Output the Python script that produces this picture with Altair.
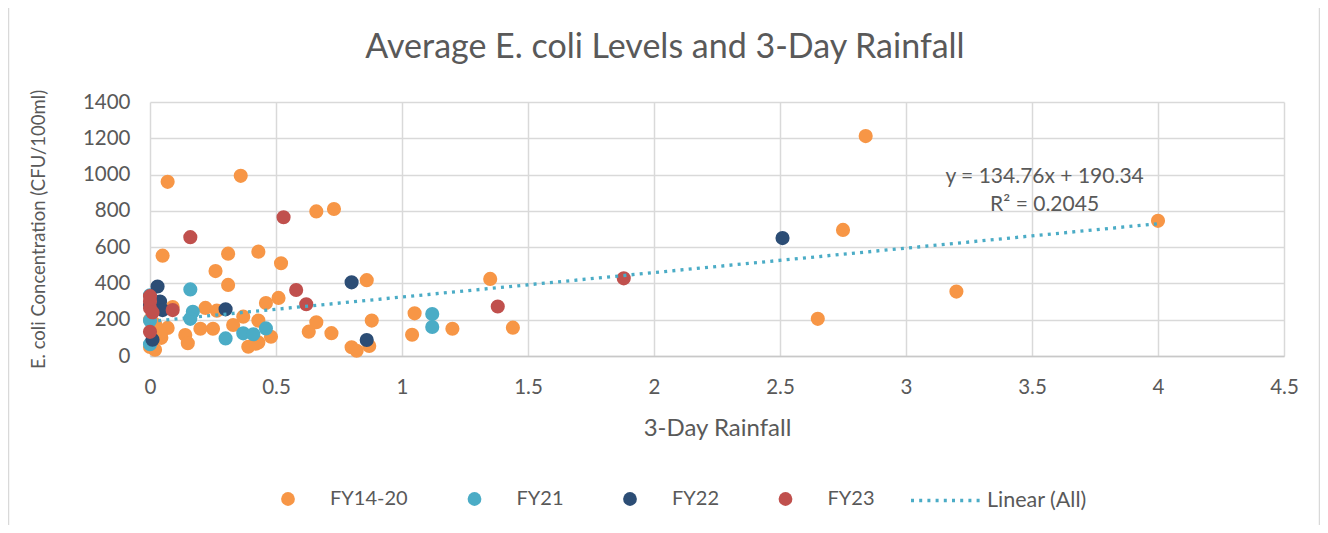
import altair as alt
import pandas as pd

# ---- data ----
series_names = ["FY14-20", "FY21", "FY22", "FY23"]
series_colors = ["#F79646", "#4BACC6", "#2C4D75", "#C0504D"]

fy1420_rain = [0.07, 0.36, 0.05, 0.31, 0.43, 0.26, 0.52, 0.66, 0.73, 0.86,
               0.31, 1.35, 1.44, 1.05, 1.04, 1.20, 0.88, 0.72, 0.87, 0.80,
               0.82, 0.66, 0.63, 0.46, 0.51, 0.43, 0.48, 0.43, 0.39, 0.42,
               0.37, 0.09, 0.22, 0.265, 0.25, 0.20, 0.14, 0.15, 0.33, 0.07,
               0.045, 0.02, 0.00, 0.00, 0.02, 2.84, 2.75, 3.20, 2.65, 4.00,
               0.04]
fy1420_ecoli = [960, 993, 553, 564, 575, 468, 511, 797, 810, 418,
                392, 425, 156, 235, 117, 150, 195, 126, 55, 48,
                29, 186, 134, 292, 320, 195, 106, 75, 51, 68,
                217, 270, 265, 250, 150, 150, 116, 70, 171, 155,
                100, 35, 50, 200, 175, 1212, 695, 355, 205, 745,
                130]

fy21_rain = [0.16, 0.17, 0.16, 0.30, 0.37, 0.41, 0.46, 1.12, 1.12, 0.00, 0.00, 0.00]
fy21_ecoli = [367, 244, 205, 97, 125, 120, 152, 231, 160, 335, 65, 195]

fy22_rain = [0.03, 0.04, 0.05, 0.30, 0.80, 0.86, 2.51, 0.01, 0.00]
fy22_ecoli = [383, 300, 253, 257, 406, 88, 650, 90, 280]

fy23_rain = [0.16, 0.53, 0.58, 0.62, 1.38, 1.88, 0.09, 0.00, 0.00, 0.00, 0.01, 0.00]
fy23_ecoli = [655, 765, 364, 285, 273, 428, 253, 330, 300, 265, 240, 133]

# trend line end points as drawn (Excel linear trendline over all points)
trend_rain = [0.0, 4.0]
trend_ecoli = [190.34, 729.38]

x_ticks = [0, 0.5, 1, 1.5, 2, 2.5, 3, 3.5, 4, 4.5]
y_ticks = [0, 200, 400, 600, 800, 1000, 1200, 1400]

title_text = "Average E. coli Levels and 3-Day Rainfall"
x_title = "3-Day Rainfall"
y_title = "E. coli Concentration (CFU/100ml)"
trend_label = "Linear (All)"
trend_color = "#4BACC6"
eq_lines = ["y = 134.76x + 190.34", "R² = 0.2045"]
eq_rain = [3.55, 3.55]
eq_ecoli = [986, 832]

rows = []
for k, (name, xs, ys) in enumerate(zip(series_names,
                                       [fy1420_rain, fy21_rain, fy22_rain, fy23_rain],
                                       [fy1420_ecoli, fy21_ecoli, fy22_ecoli, fy23_ecoli])):
    for xv, yv in zip(xs, ys):
        rows.append({"series": name, "k": k, "rain": xv, "ecoli": yv})
df = pd.DataFrame(rows)
trend_df = pd.DataFrame({"rain": trend_rain, "ecoli": trend_ecoli, "series": [trend_label] * 2})
eq_df = pd.DataFrame({"t": eq_lines, "rain": eq_rain, "ecoli": eq_ecoli})

FONT = "Lato"
TXT = "#595959"
GRID = "#d9d9d9"

x_scale = alt.Scale(domain=[0, 4.5], nice=False, zero=False)
y_scale = alt.Scale(domain=[0, 1400], nice=False)

x_axis = alt.Axis(values=x_ticks, format="~g", title=x_title, ticks=False,
                  domainColor="#c8c8c8", domainWidth=1.5,
                  grid=True, gridColor=GRID, gridWidth=1.5,
                  labelFont=FONT, labelFontSize=20.5, labelColor=TXT, labelPadding=21,
                  labelOverlap=False, labelFlush=False,
                  titleFont=FONT, titleFontSize=24, titleColor=TXT,
                  titleFontWeight="normal", titlePadding=19)
y_axis = alt.Axis(values=y_ticks, format="d", title=y_title, ticks=False,
                  domain=False, grid=True, gridColor=GRID, gridWidth=1.5,
                  labelFont=FONT, labelFontSize=20.5, labelColor=TXT, labelPadding=20,
                  labelOverlap=False, labelFlush=False, labelBound=False,
                  titleFont=FONT, titleFontSize=18.5, titleColor=TXT,
                  titleFontWeight="normal", titlePadding=34)

X = lambda: alt.X("rain:Q", scale=x_scale, axis=x_axis)
Y = lambda: alt.Y("ecoli:Q", scale=y_scale, axis=y_axis)

edge_df = pd.DataFrame({"e": [0]})
left_edge = alt.Chart(edge_df).mark_rule(stroke="#d9d9d9", strokeWidth=1.5).encode(
    x=alt.value(-141.5), y=alt.value(-94), y2=alt.value(423))
right_edge = alt.Chart(edge_df).mark_rule(stroke="#d9d9d9", strokeWidth=1.5).encode(
    x=alt.value(1169.5), y=alt.value(-94), y2=alt.value(423))

points = alt.Chart(df).mark_circle(size=200, opacity=1).encode(
    x=X(), y=Y(),
    color=alt.Color("series:N",
                    scale=alt.Scale(domain=series_names, range=series_colors),
                    legend=alt.Legend(orient="none", legendX=128, legendY=387,
                                      direction="horizontal", title=None,
                                      symbolType="circle", symbolSize=190,
                                      symbolStrokeWidth=0, symbolOpacity=1,
                                      labelFont=FONT, labelFontSize=20, labelColor=TXT,
                                      labelOffset=32, columnPadding=56.5)),
    order=alt.Order("k:Q"),
)

trend = alt.Chart(trend_df).mark_line(strokeDash=[3, 5.2], strokeWidth=3.3).encode(
    x=X(), y=Y(),
    color=alt.Color("series:N",
                    scale=alt.Scale(domain=[trend_label], range=[trend_color]),
                    legend=alt.Legend(orient="none", legendX=759, legendY=362,
                                      direction="horizontal", title=None,
                                      symbolType="stroke", symbolSize=4761,
                                      symbolDash=[3, 5.2], symbolStrokeWidth=3.3,
                                      labelFont=FONT, labelFontSize=21.5, labelColor=TXT,
                                      labelOffset=5)),
)

eq_text = alt.Chart(eq_df).mark_text(
    font=FONT, fontSize=21, color=TXT, align="center", baseline="middle"
).encode(x=X(), y=Y(), text="t:N")

chart = alt.layer(left_edge, right_edge, points, trend, eq_text).resolve_scale(
    color="independent"
).properties(
    width=1134, height=254,
    title=alt.TitleParams(title_text, font=FONT, fontSize=34, color=TXT,
                          fontWeight="normal", anchor="middle", dx=-52, offset=-58),
    autosize=alt.AutoSizeParams(type="none"),
    padding={"left": 142, "top": 94, "right": 36, "bottom": 169},
).configure(background="white").configure_view(stroke=None).configure_axis(labelOverlap=False)

chart.save("out.html", embed_options={"renderer": "svg", "actions": False})
